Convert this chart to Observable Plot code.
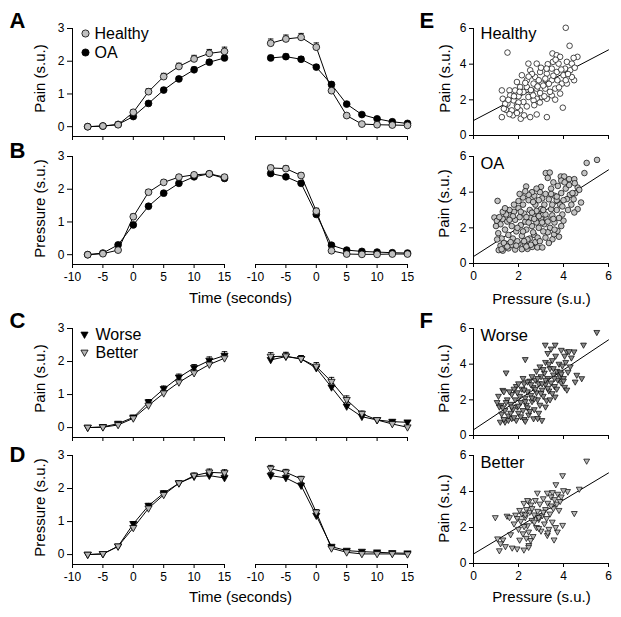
<!DOCTYPE html>
<html><head><meta charset="utf-8">
<script src="https://cdn.jsdelivr.net/npm/d3@7"></script>
<script src="https://cdn.jsdelivr.net/npm/@observablehq/plot@0.6"></script>
<style>
body{margin:0;background:#fff}
#chart{position:relative;width:621px;height:617px;background:#fff}
#chart svg{position:absolute;left:0;top:0}
</style>
</head><body><div id="chart"></div>
<script>
// ---------------- DATA ----------------
const times = [-7.5,-5,-2.5,0,2.5,5,7.5,10,12.5,15];
const timeTicks = [-10,-5,0,5,10,15];
const timeYTicks = [0,1,2,3];
const scatterTicks = [0,2,4,6];

// Panel A: pain (onset / offset)
const painOnsetHealthy  = [0,0.02,0.06,0.44,1.07,1.53,1.84,2.07,2.24,2.30];
const painOnsetOA       = [0,0.02,0.07,0.31,0.71,1.12,1.46,1.74,1.97,2.10];
const painOffsetHealthy = [2.55,2.68,2.73,2.43,1.10,0.34,0.08,0.06,0.05,0.04];
const painOffsetOA      = [2.10,2.14,2.06,1.82,1.29,0.69,0.37,0.24,0.15,0.10];
const errPainOnsetHealthy  = [0.02,0.03,0.04,0.07,0.09,0.10,0.10,0.11,0.12,0.13];
const errPainOnsetOA       = [0.02,0.02,0.03,0.05,0.06,0.07,0.07,0.08,0.08,0.08];
const errPainOffsetHealthy = [0.13,0.12,0.12,0.13,0.09,0.05,0.03,0.03,0.03,0.03];
const errPainOffsetOA      = [0.08,0.08,0.08,0.08,0.07,0.05,0.04,0.03,0.03,0.03];
// Panel B: pressure
const pressOnsetHealthy  = [0,0.03,0.14,1.16,1.91,2.21,2.37,2.44,2.47,2.37];
const pressOnsetOA       = [0,0.05,0.30,0.91,1.48,1.88,2.18,2.38,2.47,2.33];
const pressOffsetHealthy = [2.65,2.63,2.42,1.33,0.12,0.02,0.01,0.01,0.02,0.02];
const pressOffsetOA      = [2.48,2.38,2.18,1.23,0.29,0.14,0.10,0.08,0.06,0.05];
const errPressOnsetHealthy  = [0.02,0.03,0.04,0.08,0.08,0.07,0.06,0.06,0.06,0.07];
const errPressOnsetOA       = [0.02,0.02,0.04,0.06,0.06,0.06,0.05,0.05,0.05,0.05];
const errPressOffsetHealthy = [0.08,0.08,0.08,0.09,0.04,0.02,0.02,0.02,0.02,0.02];
const errPressOffsetOA      = [0.07,0.07,0.07,0.08,0.04,0.02,0.02,0.02,0.02,0.02];
// Panel C: pain, worse/better
const painOnsetWorse   = [0,0.02,0.12,0.31,0.77,1.17,1.52,1.81,2.03,2.18];
const painOnsetBetter  = [0,0.01,0.08,0.28,0.67,1.04,1.37,1.65,1.91,2.10];
const painOffsetWorse  = [2.05,2.15,2.08,1.80,1.22,0.64,0.33,0.23,0.18,0.16];
const painOffsetBetter = [2.15,2.16,2.08,1.85,1.39,0.84,0.42,0.23,0.11,0.01];
const errPainOnsetWorse   = [0.02,0.03,0.04,0.06,0.08,0.09,0.10,0.10,0.11,0.12];
const errPainOnsetBetter  = [0.02,0.03,0.04,0.06,0.08,0.09,0.10,0.10,0.11,0.12];
const errPainOffsetWorse  = [0.12,0.11,0.10,0.11,0.12,0.11,0.08,0.06,0.05,0.05];
const errPainOffsetBetter = [0.12,0.12,0.10,0.12,0.13,0.12,0.08,0.06,0.05,0.05];
// Panel D: pressure, worse/better
const pressOnsetWorse   = [0,0.02,0.25,0.93,1.48,1.86,2.16,2.36,2.39,2.32];
const pressOnsetBetter  = [0,0.02,0.25,0.81,1.40,1.81,2.16,2.39,2.49,2.47];
const pressOffsetWorse  = [2.39,2.32,2.09,1.18,0.24,0.12,0.09,0.07,0.05,0.04];
const pressOffsetBetter = [2.60,2.49,2.29,1.28,0.19,0.07,0.02,0.02,0.02,0.01];
const errPressOnsetWorse   = [0.02,0.02,0.04,0.07,0.07,0.07,0.07,0.08,0.10,0.10];
const errPressOnsetBetter  = [0.02,0.02,0.04,0.07,0.07,0.07,0.07,0.08,0.10,0.10];
const errPressOffsetWorse  = [0.10,0.09,0.08,0.08,0.04,0.03,0.02,0.02,0.02,0.02];
const errPressOffsetBetter = [0.10,0.09,0.08,0.08,0.04,0.03,0.02,0.02,0.02,0.02];

// Panels E/F: pressure (x) vs pain (y)
const healthyPts = [[4.10,6.04],[4.27,5.03],[1.51,4.65],[4.62,4.41],[4.47,3.10],[3.97,1.56],[1.26,1.03],[2.52,1.03],[2.81,1.18],[3.26,1.03],[2.10,0.94],[1.26,2.53],[1.60,2.53],[1.30,2.06],[1.45,1.44],[1.75,1.13],
[3.51,4.60],[3.70,4.50],[3.85,4.41],[3.53,4.13],[3.78,4.03],[4.15,4.13],[4.37,4.03],[4.07,3.75],[4.30,3.66],[4.37,3.28],[4.00,3.38],[3.70,3.56],[3.48,3.75],[3.26,3.47],[3.48,3.10],[3.73,3.10],[3.93,2.91],[4.15,2.91],[3.63,2.63],[3.85,2.35],[3.48,2.25],[3.26,2.06],[3.63,2.01],[3.04,2.16],
[2.44,4.03],[2.81,4.03],[2.52,3.66],[2.96,3.56],[2.15,3.38],[2.74,3.28],[3.19,3.19],[2.37,3.10],[1.93,3.00],[2.67,2.91],[3.04,2.91],[2.07,2.72],[2.37,2.72],[2.81,2.63],[3.19,2.63],[1.85,2.53],[2.22,2.44],[2.59,2.38],[2.96,2.38],[1.63,2.25],[2.00,2.20],[2.44,2.16],[2.81,2.06],[1.78,1.97],[2.22,1.88],[2.67,1.97],[1.51,1.78],[1.93,1.69],[2.37,1.63],[2.07,1.41],[1.70,1.41],[2.25,1.13],[1.93,1.26],[1.41,1.78],
[2.60,3.45],[2.90,3.10],[3.10,2.80],[3.35,2.90],[3.55,3.35],[3.90,3.70],[4.20,3.45],[4.50,3.80],[4.10,3.10],[3.80,2.70],[3.40,2.45],[3.15,2.20],[2.95,1.85],[2.70,1.70],[2.55,2.55],[2.30,2.95],[2.05,2.45],[1.80,2.20],[1.55,2.00],[1.35,1.50],[1.60,1.20],[2.00,1.85],[2.45,3.30],[3.00,3.80],[3.30,4.00],[3.65,4.25],[2.85,2.75],[3.25,3.75],[4.45,4.35],[1.95,1.60],[2.65,2.25]];

const oaPts = [[5.49,5.81],[5.03,5.64],[4.93,5.07],[3.21,5.07],[3.39,5.10],[3.88,4.88],[4.03,4.88],[4.25,4.73],[4.48,4.73],[4.63,4.26],[4.70,4.13],[4.52,3.94],[4.28,3.85],[4.15,3.61],[4.78,3.42],[4.63,3.05],[4.48,2.86],[2.34,4.32],[1.07,3.51],[0.93,2.58],[1.04,2.39],
[1.12,0.75],[1.30,0.72],[1.55,0.85],[1.85,0.78],[2.15,0.80],[2.40,0.82],[2.61,0.93],[2.84,0.90],[3.06,0.90],[1.20,1.00],[1.45,1.10],[1.70,1.05],[2.00,1.10],[2.30,1.05],
[3.51,1.36],[3.58,1.64],[3.73,1.83],[3.90,2.10],[4.00,2.40],[3.95,2.75],[3.80,2.55],[3.60,2.30],[3.40,2.00],[3.30,1.75],[3.15,2.20],[3.25,2.50],[3.50,2.70],[3.70,3.00],[3.85,3.30],[4.00,3.55],[3.90,3.95],[4.10,4.20],[3.75,4.35],[3.55,4.55],[3.45,4.20],[3.60,3.80],[3.35,3.60],[3.20,3.90],[3.05,3.65],[3.15,3.30],[3.00,3.05],[2.85,2.80],[3.00,2.50],[2.80,2.30],[2.90,2.00],[3.10,1.80],[2.70,1.60],[2.50,1.40],[2.75,1.20],
[1.10,1.70],[1.20,2.20],[1.30,2.50],[1.25,1.40],[1.40,1.90],[1.50,2.35],[1.55,1.60],[1.60,2.70],[1.70,2.10],[1.75,1.40],[1.80,2.90],[1.85,2.45],[1.90,1.80],[1.95,1.25],[2.00,3.10],[2.05,2.60],[2.10,2.15],[2.15,1.55],[2.20,3.30],[2.25,2.80],[2.30,2.35],[2.35,1.90],[2.40,1.35],[2.45,3.55],[2.50,3.00],[2.55,2.55],[2.60,2.10],[2.65,1.75],[2.70,3.80],[2.75,3.30],[2.80,2.95],[2.90,3.55],[2.95,4.00],[3.00,4.30],[2.60,4.00],[2.45,3.85],[2.20,3.70],[2.00,3.50],[1.80,3.30],[1.60,3.00],[1.45,2.75],[1.30,2.90],[1.15,2.60],[1.00,2.10],[1.65,1.20],[1.90,1.00],[2.25,1.25],[2.55,1.05],[2.85,1.45],[3.20,1.45],[3.35,1.15],[2.10,2.90],[2.35,2.60],[1.75,2.65],[2.60,2.85],[2.90,2.65],[3.20,2.75],[3.45,3.05],[3.70,3.55],[3.95,3.20],[4.20,3.00],[4.35,3.30],[4.40,3.95],[4.25,4.40],[3.90,4.65],[3.30,4.80],[2.80,4.20],[3.60,1.90],[3.80,1.50],[1.05,1.35],[1.35,1.15],[1.50,0.95],[1.95,2.00],[2.20,1.80],[2.45,2.30],[2.70,2.50],[3.05,2.30],[3.30,2.35],[3.55,2.50],[1.40,3.10],[1.60,2.45],[2.05,3.90],[2.30,4.05],[2.65,3.45],[3.10,3.00],[3.50,3.30],[3.70,3.75],[4.05,4.55],[4.50,4.50],[4.45,3.60],[2.35,0.95],[2.95,1.25],[1.25,0.80],[3.45,3.90]];

const worsePts = [[5.48,5.78],[4.89,5.07],[3.19,5.07],[3.63,5.07],[3.90,4.78],[4.15,4.69],[4.47,4.69],[2.30,4.26],[1.45,3.51],[4.59,3.38],[4.81,3.19],[4.52,3.00],[3.63,2.16],
[1.19,0.75],[1.40,0.75],[1.55,0.85],[1.90,0.85],[2.25,0.90],[2.67,0.94],[3.04,0.84],[2.85,0.95],[1.70,0.95],
[1.11,2.20],[1.30,2.53],[1.23,1.69],[1.15,1.60],[1.35,2.45],[1.25,1.20],[1.40,1.40],[1.50,2.00],[1.55,1.10],[1.65,1.75],[1.70,2.30],[1.75,1.45],[1.80,1.00],[1.85,2.00],[1.90,2.75],[1.95,1.60],[2.00,1.25],[2.05,2.20],[2.10,1.85],[2.15,2.60],[2.20,1.40],[2.25,2.90],[2.30,2.10],[2.35,1.70],[2.40,2.45],[2.45,1.15],[2.50,3.05],[2.55,2.25],[2.60,1.90],[2.65,2.70],[2.70,1.45],[2.75,3.10],[2.80,2.40],[2.85,2.00],[2.90,2.90],[2.95,1.70],[3.00,3.30],[3.05,2.55],[3.10,2.20],[3.15,3.50],[3.20,2.85],[3.25,1.95],[3.30,3.20],[3.35,2.50],[3.40,3.75],[3.45,2.95],[3.50,4.20],[3.55,3.40],[3.60,2.75],[3.65,4.45],[3.70,3.60],[3.75,3.10],[3.80,4.00],[3.85,3.30],[3.90,2.95],[3.95,3.90],[4.00,3.20],[4.05,2.70],[4.10,4.10],[4.20,3.55],[4.30,3.85],[4.35,4.35],[3.30,4.60],[3.45,4.85],[3.20,4.10],[2.95,3.85],[2.80,3.60],[2.60,3.30],[2.40,3.00],[2.20,3.20],[2.00,2.90],[1.80,2.60],[1.60,2.45],[1.45,1.85],[1.35,0.90],[1.65,1.25],[2.10,1.05],[2.40,1.55],[2.70,2.05],[3.00,2.35],[3.30,2.65],[3.50,2.35],[3.70,2.60],[4.00,3.05],[4.15,2.55],[2.30,0.80],[2.50,1.35],[2.90,1.25],[3.20,1.60],[3.40,2.00],[1.95,2.40],[2.25,2.55],[2.55,2.85],[2.85,3.20],[3.10,3.70],[3.35,4.00],[3.55,3.75],[3.85,3.55],[4.05,4.45],[4.25,4.70],[1.05,1.85],[1.30,1.55],[1.70,1.60],[2.00,1.65],[2.30,1.90],[2.60,2.10],[2.75,2.60],[3.05,2.90],[3.20,3.10],[3.60,3.20],[3.90,3.45]];

const betterPts = [[5.03,5.69],[3.96,4.88],[3.66,4.38],[4.70,4.13],[4.18,4.00],[2.84,3.91],[3.28,3.91],[3.51,3.94],[2.24,3.34],[2.46,3.44],[0.97,2.55],[1.49,2.63],[1.87,2.69],[4.48,2.78],[3.96,2.12],[1.07,1.37],[1.31,1.31],[1.15,0.71],[1.42,0.94],[1.72,0.86],[1.94,0.81],[2.24,0.75],[2.46,1.00],[2.54,1.28],[3.58,1.31],[3.28,1.56],[3.73,1.75],
[1.20,1.10],[1.65,1.60],[1.80,2.20],[1.95,2.50],[2.00,1.90],[2.10,2.35],[2.15,2.75],[2.20,1.65],[2.30,2.55],[2.35,3.00],[2.40,2.10],[2.45,1.75],[2.50,2.85],[2.55,3.25],[2.60,2.40],[2.65,1.50],[2.70,2.70],[2.75,3.50],[2.80,2.00],[2.85,2.90],[2.90,2.45],[2.95,3.30],[3.00,1.80],[3.05,2.65],[3.10,3.60],[3.15,2.20],[3.20,3.00],[3.25,2.50],[3.30,3.35],[3.35,1.90],[3.40,2.75],[3.45,3.70],[3.50,2.30],[3.55,3.05],[3.60,3.55],[3.65,2.00],[3.70,3.30],[3.75,3.85],[3.80,2.95],[3.85,3.45],[3.90,3.70],[4.00,4.05],[2.40,3.50],[2.60,3.05],[2.25,2.05],[2.05,2.95],[1.60,2.55],[2.35,1.40],[2.45,0.90],[2.30,2.70],[2.70,2.30],[2.90,2.55],[3.10,2.85],[3.45,3.20],[3.30,1.70],[2.90,1.95],[2.05,1.30]];

// regression fits (intercept, slope)
const fitHealthy = [0.84, 0.66];
const fitOA      = [0.39, 0.81];
const fitWorse   = [0.32, 0.84];
const fitBetter  = [0.53, 0.75];

// ---------------- LAYOUT / STYLE ----------------
const W = 621, H = 617;
const FONT = '"Liberation Sans", Arial, Helvetica, sans-serif';
const L = {
  timeLeft: [72, 224], timeRight: [255, 407],
  timeRows: [[28, 136], [156, 264], [328, 437], [455, 564]],
  scatX: [473, 608],
  scatRows: [[28, 135], [156, 263], [328, 435], [455, 563]]
};
const C = {healthy: "#c0c0c0", oa: "#000000", worse: "#000000", better: "#b4b4b4",
           sHealthy: "#ffffff", sOA: "#c4c4c4", sWorse: "#8a8a8a", sBetter: "#b8b8b8"};

const triDown = {draw(ctx, size) {
  const r = Math.sqrt(size / Math.PI);
  const w = r * 1.05, top = -r * 0.7, bot = r * 1.15;
  ctx.moveTo(-w, top); ctx.lineTo(w, top); ctx.lineTo(0, bot); ctx.closePath();
}};

const chart = document.getElementById("chart");
function frame(xr, yr) {
  return {width: W, height: H, marginLeft: xr[0], marginRight: W - xr[1], marginTop: yr[0], marginBottom: H - yr[1]};
}
const baseStyle = {background: "none", fontFamily: FONT, fontSize: "12px", color: "#000", overflow: "visible"};
const rows = (vals, errs) => times.map((t, i) => ({t, v: vals[i], e: errs[i]}));
const fmt = d => String(d);

function timePanel(xr, yr, series, showY, showXLabels) {
  const marks = [Plot.ruleY([-0.3], {stroke: "#000"})];
  if (showY) {
    marks.push(Plot.ruleX([-10], {stroke: "#000"}));
    marks.push(Plot.axisY({ticks: timeYTicks, anchor: "left", tickSize: 5, tickPadding: 3, fontSize: 12, label: null, tickFormat: fmt}));
  }
  marks.push(Plot.axisX({ticks: timeTicks, anchor: "bottom", tickSize: 4, tickPadding: 4, fontSize: 12, label: null,
    tickFormat: showXLabels ? fmt : () => ""}));
  for (const s of series) {
    const d = rows(s.vals, s.errs);
    marks.push(Plot.ruleX(d, {x: "t", y1: "v", y2: r => r.v + r.e, stroke: "#000", strokeWidth: 0.9}));
    marks.push(Plot.link(d, {x1: r => r.t - 0.45, x2: r => r.t + 0.45, y1: r => r.v + r.e, y2: r => r.v + r.e, stroke: "#000", strokeWidth: 0.9}));
    marks.push(Plot.line(d, {x: "t", y: "v", stroke: "#000", strokeWidth: 1}));
    marks.push(Plot.dot(d, {x: "t", y: "v", r: 3.4, fill: s.fill, stroke: "#000", strokeWidth: 0.8, symbol: s.symbol || "circle"}));
  }
  return Plot.plot({...frame(xr, yr), style: baseStyle,
    x: {domain: [-10, 15]}, y: {domain: [-0.3, 3], axis: showY ? undefined : null}, marks});
}

function scatterPanel(yr, pts, fill, symbol, fit, showXLabels) {
  const data = pts.map(([x, y]) => ({x, y}));
  const fitLine = [0, 6].map(x => ({x, y: fit[0] + fit[1] * x}));
  const marks = [
    Plot.ruleY([0], {stroke: "#000"}),
    Plot.ruleX([0], {stroke: "#000"}),
    Plot.axisY({ticks: scatterTicks, anchor: "left", tickSize: 4, tickPadding: 3, fontSize: 12, label: null, tickFormat: fmt}),
    Plot.axisX({ticks: scatterTicks, anchor: "bottom", tickSize: 4, tickPadding: 4, fontSize: 12, label: null, tickFormat: showXLabels ? fmt : () => ""}),
    Plot.line(fitLine, {x: "x", y: "y", stroke: "#000", strokeWidth: 1}),
    Plot.dot(data, {x: "x", y: "y", r: 2.8, fill, stroke: "#000", strokeWidth: 0.7, symbol})
  ];
  return Plot.plot({...frame(L.scatX, yr), style: baseStyle, x: {domain: [0, 6]}, y: {domain: [0, 6]}, marks});
}

const panels = [
  timePanel(L.timeLeft, L.timeRows[0], [{vals: painOnsetOA, errs: errPainOnsetOA, fill: C.oa}, {vals: painOnsetHealthy, errs: errPainOnsetHealthy, fill: C.healthy}], true, false),
  timePanel(L.timeRight, L.timeRows[0], [{vals: painOffsetOA, errs: errPainOffsetOA, fill: C.oa}, {vals: painOffsetHealthy, errs: errPainOffsetHealthy, fill: C.healthy}], false, false),
  timePanel(L.timeLeft, L.timeRows[1], [{vals: pressOnsetOA, errs: errPressOnsetOA, fill: C.oa}, {vals: pressOnsetHealthy, errs: errPressOnsetHealthy, fill: C.healthy}], true, true),
  timePanel(L.timeRight, L.timeRows[1], [{vals: pressOffsetOA, errs: errPressOffsetOA, fill: C.oa}, {vals: pressOffsetHealthy, errs: errPressOffsetHealthy, fill: C.healthy}], false, true),
  timePanel(L.timeLeft, L.timeRows[2], [{vals: painOnsetWorse, errs: errPainOnsetWorse, fill: C.worse, symbol: triDown}, {vals: painOnsetBetter, errs: errPainOnsetBetter, fill: C.better, symbol: triDown}], true, false),
  timePanel(L.timeRight, L.timeRows[2], [{vals: painOffsetWorse, errs: errPainOffsetWorse, fill: C.worse, symbol: triDown}, {vals: painOffsetBetter, errs: errPainOffsetBetter, fill: C.better, symbol: triDown}], false, false),
  timePanel(L.timeLeft, L.timeRows[3], [{vals: pressOnsetWorse, errs: errPressOnsetWorse, fill: C.worse, symbol: triDown}, {vals: pressOnsetBetter, errs: errPressOnsetBetter, fill: C.better, symbol: triDown}], true, true),
  timePanel(L.timeRight, L.timeRows[3], [{vals: pressOffsetWorse, errs: errPressOffsetWorse, fill: C.worse, symbol: triDown}, {vals: pressOffsetBetter, errs: errPressOffsetBetter, fill: C.better, symbol: triDown}], false, true),
  scatterPanel(L.scatRows[0], healthyPts, C.sHealthy, "circle", fitHealthy, false),
  scatterPanel(L.scatRows[1], oaPts, C.sOA, "circle", fitOA, true),
  scatterPanel(L.scatRows[2], worsePts, C.sWorse, triDown, fitWorse, false),
  scatterPanel(L.scatRows[3], betterPts, C.sBetter, triDown, fitBetter, true)
];
panels.forEach(p => chart.appendChild(p));

// ---------------- TEXT OVERLAY ----------------
const letters = [{x: 9, y: 20, t: "A"}, {x: 9, y: 150, t: "B"}, {x: 9, y: 320, t: "C"}, {x: 9, y: 454, t: "D"}, {x: 419, y: 20, t: "E"}, {x: 419, y: 320, t: "F"}];
const yTitles = [{x: 40, y: 78, t: "Pain (s.u.)"}, {x: 40, y: 208, t: "Pressure (s.u.)"}, {x: 40, y: 378, t: "Pain (s.u.)"}, {x: 40, y: 507, t: "Pressure (s.u.)"},
                 {x: 445, y: 78, t: "Pain (s.u.)"}, {x: 444, y: 203, t: "Pain (s.u.)"}, {x: 444, y: 378, t: "Pain (s.u.)"}, {x: 444, y: 508, t: "Pain (s.u.)"}];
const xTitles = [{x: 240, y: 298, t: "Time (seconds)"}, {x: 240, y: 597, t: "Time (seconds)"}, {x: 541, y: 299, t: "Pressure (s.u.)"}, {x: 541, y: 597, t: "Pressure (s.u.)"}];
const panelNames = [{x: 480, y: 33, t: "Healthy"}, {x: 480, y: 163, t: "OA"}, {x: 480, y: 335, t: "Worse"}, {x: 480, y: 462, t: "Better"}];
const legendText = [{x: 94, y: 33, t: "Healthy"}, {x: 94, y: 52, t: "OA"}, {x: 95, y: 334, t: "Worse"}, {x: 95, y: 352, t: "Better"}];
const legendCircles = [{x: 85, y: 33, f: C.healthy}, {x: 85, y: 52, f: C.oa}];
const legendTris = [{x: 84, y: 334, f: C.worse}, {x: 84, y: 352, f: C.better}];

const overlay = Plot.plot({width: W, height: H, margin: 0, style: {...baseStyle},
  x: {type: "identity", axis: null}, y: {type: "identity", axis: null},
  marks: [
    Plot.text(letters, {x: "x", y: "y", text: "t", fontSize: 22, fontWeight: "bold", textAnchor: "start", lineAnchor: "middle"}),
    Plot.text(yTitles, {x: "x", y: "y", text: "t", fontSize: 15, rotate: -90, textAnchor: "middle", lineAnchor: "middle"}),
    Plot.text(xTitles, {x: "x", y: "y", text: "t", fontSize: 15, textAnchor: "middle", lineAnchor: "middle"}),
    Plot.text(panelNames, {x: "x", y: "y", text: "t", fontSize: 16.5, textAnchor: "start", lineAnchor: "middle"}),
    Plot.text(legendText, {x: "x", y: "y", text: "t", fontSize: 16, textAnchor: "start", lineAnchor: "middle"}),
    Plot.dot(legendCircles, {x: "x", y: "y", r: 3.6, fill: "f", stroke: "#000", strokeWidth: 0.8}),
    Plot.dot(legendTris, {x: "x", y: "y", r: 3.4, fill: "f", stroke: "#000", strokeWidth: 0.8, symbol: triDown})
  ]});
chart.appendChild(overlay);
</script>
</body></html>
